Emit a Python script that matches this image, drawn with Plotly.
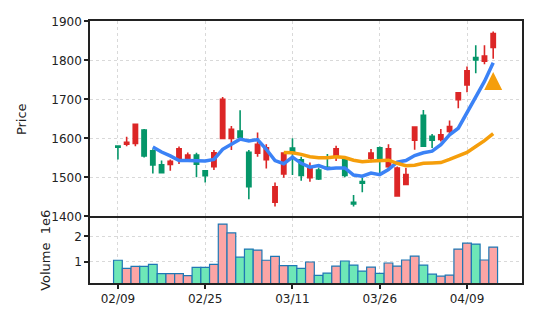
import plotly.graph_objects as go

# ---- data ----
idx = list(range(44))
opens  = [1580, 1585, 1587, 1621, 1568, 1532, 1533, 1547, 1549, 1557,
          1517, 1527, 1600, 1600, 1619, 1564, 1562, 1545, 1436, 1509,
          1575, 1545, 1499, 1519, 1526, 1553, 1546, 1436, 1489, 1549,
          1576, 1527, 1452, 1482, 1595, 1659, 1605, 1597, 1618, 1699,
          1737, 1807, 1798, 1833]
highs  = [1580, 1604, 1637, 1624, 1572, 1543, 1546, 1579, 1564, 1563,
          1519, 1570, 1706, 1632, 1672, 1570, 1615, 1585, 1487, 1563,
          1600, 1553, 1538, 1525, 1560, 1581, 1553, 1455, 1499, 1573,
          1579, 1585, 1528, 1524, 1630, 1673, 1611, 1624, 1646, 1718,
          1784, 1839, 1839, 1874]
lows   = [1546, 1580, 1580, 1551, 1510, 1512, 1517, 1534, 1543, 1500,
          1487, 1519, 1598, 1570, 1599, 1444, 1553, 1523, 1425, 1499,
          1506, 1491, 1489, 1493, 1520, 1542, 1500, 1425, 1462, 1539,
          1510, 1522, 1451, 1482, 1571, 1579, 1575, 1592, 1609, 1677,
          1718, 1767, 1790, 1804]
closes = [1577, 1590, 1636, 1555, 1532, 1512, 1541, 1573, 1557, 1534,
          1504, 1563, 1700, 1623, 1602, 1476, 1585, 1576, 1476, 1562,
          1563, 1505, 1523, 1496, 1522, 1573, 1505, 1432, 1485, 1562,
          1549, 1573, 1524, 1507, 1629, 1580, 1595, 1609, 1630, 1717,
          1773, 1801, 1811, 1869]
volume_millions = [1.06, 0.74, 0.82, 0.82, 0.90, 0.53, 0.53, 0.53, 0.45, 0.78,
                   0.78, 0.90, 2.49, 2.14, 1.18, 1.50, 1.46, 1.06, 1.21, 0.85,
                   0.85, 0.74, 0.99, 0.46, 0.55, 0.83, 1.03, 0.87, 0.63, 0.79,
                   0.54, 0.95, 0.83, 1.07, 1.22, 0.87, 0.51, 0.43, 0.47, 1.50,
                   1.74, 1.70, 1.07, 1.58]
ma5_idx = list(range(4, 44))
ma5 = [1578, 1565, 1555, 1543, 1543, 1543, 1542, 1546, 1572, 1585,
       1598, 1593, 1597, 1572, 1543, 1535, 1552, 1536, 1526, 1530,
       1522, 1524, 1524, 1506, 1503, 1511, 1507, 1520, 1539, 1543,
       1556, 1563, 1567, 1584, 1609, 1626, 1665, 1706, 1746, 1794]
ma20_idx = list(range(19, 44))
ma20 = [1564, 1563, 1559, 1553, 1550, 1550, 1553, 1551, 1544, 1540,
        1542, 1544, 1544, 1536, 1530, 1531, 1536, 1537, 1538, 1546,
        1554, 1564, 1579, 1594, 1612]
signal_idx = [43]
signal_price = [1770]
tick_pos = [0, 10, 20, 30, 40]
tick_labels = ["02/09", "02/25", "03/11", "03/26", "04/09"]

RED, GREEN = "#dc2626", "#059669"
PINK, MINT = "#fca5a5", "#6ee7b7"
BLUE, ORANGE = "#3b82f6", "#f59e0b"
AX = "#222222"
GRID = "#d9d9d9"
FONT = "DejaVu Sans"

vol_colors = [PINK if c >= o else MINT for o, c in zip(opens, closes)]

fig = go.Figure()
fig.add_trace(go.Candlestick(
    x=idx, open=opens, high=highs, low=lows, close=closes,
    increasing=dict(line=dict(color=RED, width=1.6), fillcolor=RED),
    decreasing=dict(line=dict(color=GREEN, width=1.6), fillcolor=GREEN),
    whiskerwidth=0, showlegend=False, xaxis="x", yaxis="y", hoverinfo="skip"))
fig.add_trace(go.Scatter(x=ma5_idx, y=ma5, mode="lines",
                         line=dict(color=BLUE, width=3.5), showlegend=False,
                         xaxis="x", yaxis="y"))
fig.add_trace(go.Scatter(x=ma20_idx, y=ma20, mode="lines",
                         line=dict(color=ORANGE, width=3.5), showlegend=False,
                         xaxis="x", yaxis="y"))
fig.add_trace(go.Scatter(x=signal_idx, y=signal_price, mode="markers",
                         marker=dict(symbol="arrow-up", size=18, color=ORANGE,
                                     line=dict(width=0)),
                         showlegend=False, xaxis="x", yaxis="y"))
fig.add_trace(go.Bar(x=idx, y=volume_millions, width=1.0,
                     marker=dict(color=vol_colors, line=dict(color="#1f77b4", width=1.2)),
                     showlegend=False, xaxis="x2", yaxis="y2"))

xr = [-3.2, 46.3]
common_axis = dict(showline=True, mirror=True, linecolor=AX, linewidth=1.5,
                   ticks="outside", ticklen=4, tickwidth=1.5, tickcolor=AX,
                   showgrid=True, gridcolor=GRID, gridwidth=1, griddash="dot",
                   zeroline=False, tickfont=dict(family=FONT, size=12, color="#222"))

fig.update_layout(
    width=537, height=328,
    margin=dict(l=90, r=15, t=21, b=45),
    paper_bgcolor="white", plot_bgcolor="white",
    font=dict(family=FONT, size=12, color="#222"),
    boxgap=0.3,
    xaxis=dict(common_axis, domain=[0, 1], anchor="y", range=xr, side="top",
               mirror=False, tickvals=tick_pos, ticktext=tick_labels,
               showticklabels=False, ticks="", rangeslider=dict(visible=False)),
    yaxis=dict(common_axis, domain=[0.25, 1], anchor="x", range=[1397, 1901],
               tickvals=[1400, 1500, 1600, 1700, 1800, 1900],
               title=dict(text="Price", font=dict(family=FONT, size=13), standoff=22)),
    xaxis2=dict(common_axis, domain=[0, 1], anchor="y2", range=xr, matches="x",
                tickvals=tick_pos, ticktext=tick_labels),
    yaxis2=dict(common_axis, domain=[0, 0.25], anchor="x2", range=[0.16, 2.75],
                tickvals=[1, 2], ticktext=["1", "2"],
                title=dict(text="Volume\u00a0\u00a01e6", font=dict(family=FONT, size=13), standoff=21)),
)

fig.write_html("out.html")
